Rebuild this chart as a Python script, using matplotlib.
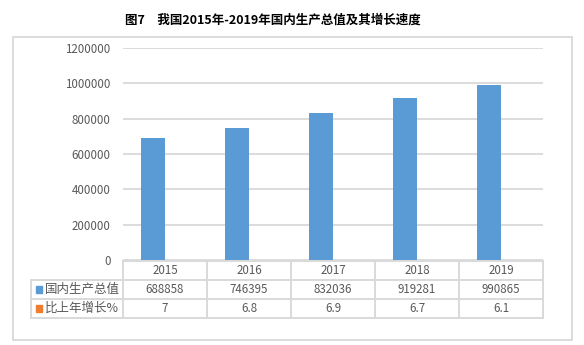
import matplotlib
matplotlib.use("Agg")
import matplotlib.pyplot as plt
from matplotlib.patches import Rectangle

plt.rcParams['font.family'] = ['Noto Sans CJK SC', 'DejaVu Sans']

# data
years = ['2015', '2016', '2017', '2018', '2019']
gdp = [688858, 746395, 832036, 919281, 990865]
growth = [7, 6.8, 6.9, 6.7, 6.1]
gdp_labels = ['688858', '746395', '832036', '919281', '990865']
growth_labels = ['7', '6.8', '6.9', '6.7', '6.1']
series_names = ['国内生产总值', '比上年增长%']
yticks = [0, 200000, 400000, 600000, 800000, 1000000, 1200000]

BLUE = '#5B9BD5'
ORANGE = '#ED7D31'
GRID = '#D9D9D9'
TXT = '#595959'

W, H = 584, 345
fig = plt.figure(figsize=(W / 100, H / 100), dpi=100)


def px_box(x0, y0, x1, y1):
    # pixel box (top-left origin) -> figure fraction rect
    return [x0 / W, 1 - y1 / H, (x1 - x0) / W, (y1 - y0) / H]


# outer chart frame
fig.patches.append(Rectangle((13 / W, 1 - 340 / H), (572 - 13) / W, (340 - 37) / H,
                             transform=fig.transFigure, fill=False,
                             ec=GRID, lw=1.3))

fig.text(273 / W, 1 - 20 / H, '图7　我国2015年-2019年国内生产总值及其增长速度',
         ha='center', va='center', fontsize=9, fontweight='bold', color='black')

# bar area
ax = fig.add_axes(px_box(123, 48, 543, 260))
n = len(years)
xs = list(range(n))
bw = 0.2857
ax.bar([x - bw / 2 for x in xs], gdp, width=bw, color=BLUE, zorder=3)
ax.bar([x + bw / 2 for x in xs], growth, width=bw, color=ORANGE, zorder=3)
ax.set_xlim(-0.5, n - 0.5)
ax.set_ylim(0, 1200000)
ax.set_yticks(yticks)
ax.set_yticklabels([str(v) for v in yticks])
ax.set_xticks([])
ax.tick_params(axis='y', length=0, pad=9, labelsize=8.3, labelcolor=TXT)
ax.grid(axis='y', color=GRID, lw=1.3, zorder=0)
for s in ax.spines.values():
    s.set_visible(False)

# data table under the bars
tax = fig.add_axes(px_box(31, 261, 543, 318))
left = -0.5 - (123 - 31) / 84
tax.set_xlim(left, n - 0.5)
tax.set_ylim(3, 0)
tax.axis('off')
lk = dict(color=GRID, lw=1.4, clip_on=False)
# horizontal rules
tax.plot([-0.5, n - 0.5], [0, 0], **lk)
for r in (1, 2, 3):
    tax.plot([left, n - 0.5], [r, r], **lk)
# vertical rules
tax.plot([left, left], [1, 3], **lk)
for c in range(n + 1):
    tax.plot([c - 0.5, c - 0.5], [0, 3], **lk)

tk = dict(ha='center', va='center', fontsize=8.3, color=TXT)
for i in range(n):
    tax.text(i, 0.5, years[i], **tk)
    tax.text(i, 1.5, gdp_labels[i], **tk)
    tax.text(i, 2.5, growth_labels[i], **tk)

for r, (name, col) in enumerate(zip(series_names, [BLUE, ORANGE])):
    y = 1.5 + r
    tax.add_patch(Rectangle((left + 0.06, y - 0.17), 0.075, 0.34, color=col, clip_on=False))
    tax.text(left + 0.17, y, name, ha='left', va='center', fontsize=9, color=TXT)

fig.savefig('out.png', dpi=100)
